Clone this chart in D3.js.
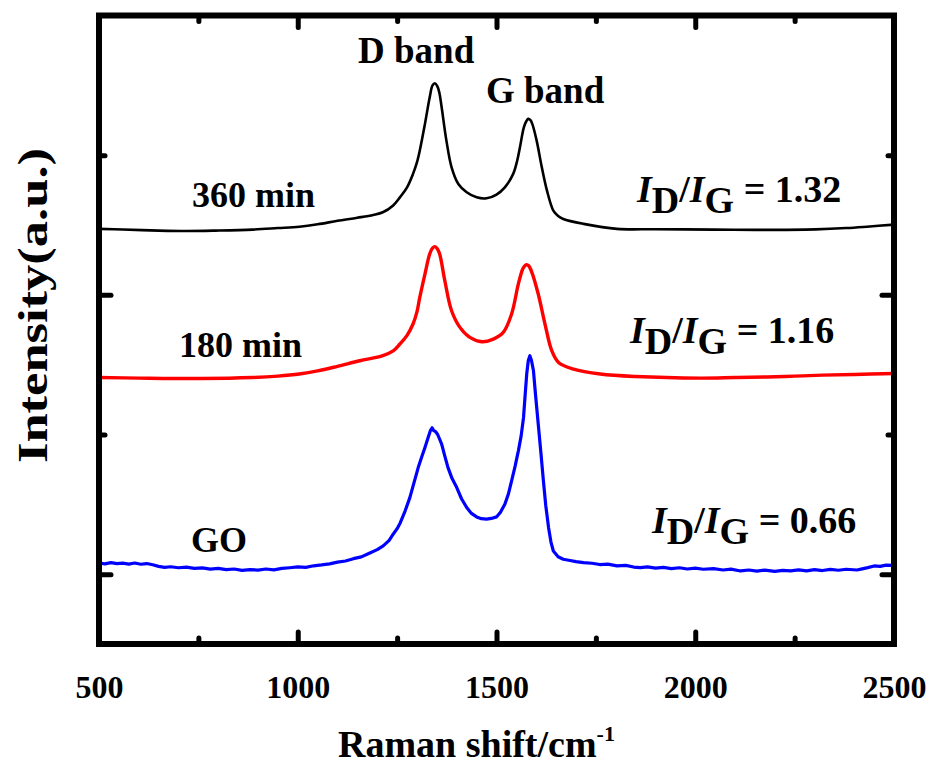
<!DOCTYPE html>
<html>
<head>
<meta charset="utf-8">
<script src="https://cdn.jsdelivr.net/npm/d3@7"></script>
<style>
  html, body { margin: 0; padding: 0; background: #fff; }
  svg text { font-family: "Liberation Serif", "Times New Roman", serif; font-weight: bold; fill: #000; }
</style>
</head>
<body>
<svg id="chart" width="930" height="773"></svg>
<script>
// Raman spectra: [wavenumber (cm-1), intensity (a.u., vertically offset)]
const spec360 = [
  [500,2972],[560,2968],[651,2960],[720,2957],[794,2960],[886,2967],[950,2978],[1004,2988],
  [1050,3005],[1100,3030],[1150,3052],[1190,3072],[1214,3091],[1240,3140],[1257,3198],[1275,3270],
  [1290,3366],[1300,3450],[1307,3533],[1320,3724],[1332,3915],[1339,3999],[1345,4015],[1351,3995],
  [1356,3950],[1362,3843],[1374,3604],[1387,3413],[1404,3294],[1425,3234],[1450,3198],[1475,3191],
  [1500,3218],[1521,3270],[1542,3366],[1552,3460],[1559,3557],[1569,3700],[1576,3748],[1580,3760],
  [1585,3752],[1590,3724],[1601,3604],[1614,3413],[1627,3246],[1643,3103],[1655,3065],[1668,3043],
  [1719,3008],[1803,2972],[1900,2970],[2046,2967],[2150,2965],[2303,2969],[2380,2978],[2432,2988],[2500,3003]
];
const spec180 = [
  [500,1908],[600,1904],[757,1901],[886,1908],[950,1918],[1004,1933],[1050,1955],[1100,1988],
  [1156,2028],[1214,2064],[1240,2098],[1257,2148],[1275,2210],[1290,2291],[1300,2380],[1307,2482],
  [1320,2649],[1332,2793],[1339,2834],[1345,2845],[1351,2830],[1357,2793],[1370,2601],[1387,2386],
  [1408,2267],[1433,2195],[1463,2164],[1492,2183],[1517,2231],[1538,2363],[1555,2578],[1566,2685],
  [1572,2710],[1576,2716],[1581,2708],[1589,2661],[1605,2506],[1622,2291],[1639,2100],[1656,2016],
  [1694,1968],[1761,1933],[1850,1915],[2013,1904],[2100,1908],[2181,1912],[2250,1918],[2320,1925],
  [2400,1930],[2500,1937]
];
const specGO = [
  [500,580],[515,574],[530,583],[545,576],[560,579],[575,572],[590,580],[605,571],[620,576],[635,567],
  [650,556],[665,549],[680,553],[700,546],[720,550],[740,541],[760,545],[780,536],[800,541],[820,532],
  [840,537],[860,527],[880,533],[900,529],[920,537],[940,531],[960,541],[980,546],[1000,552],[1020,549],
  [1040,560],[1060,566],[1080,574],[1100,586],[1120,594],[1140,611],[1160,624],[1180,650],[1200,676],
  [1215,703],[1230,742],[1240,786],[1250,826],[1258,869],[1270,952],[1282,1048],[1292,1150],[1303,1263],
  [1312,1340],[1320,1407],[1328,1478],[1334,1530],[1338,1548],[1342,1528],[1347,1520],[1352,1500],
  [1357,1466],[1362,1431],[1370,1345],[1378,1263],[1388,1186],[1400,1120],[1412,1040],[1425,977],
  [1437,935],[1450,910],[1462,897],[1475,894],[1487,899],[1500,910],[1510,944],[1521,1001],[1530,1075],
  [1538,1168],[1547,1275],[1555,1383],[1562,1490],[1568,1622],[1572,1780],[1576,1933],[1580,2030],
  [1584,2064],[1588,2030],[1593,1956],[1598,1790],[1605,1574],[1612,1360],[1618,1168],[1624,990],
  [1631,833],[1637,730],[1643,666],[1655,625],[1668,607],[1685,598],[1700,590],[1719,583],[1740,578],
  [1760,569],[1780,572],[1803,559],[1825,563],[1845,551],[1862,547],[1880,552],[1900,543],[1920,549],
  [1940,540],[1960,546],[1980,537],[2000,543],[2020,535],[2046,540],[2070,530],[2090,536],[2114,523],
  [2135,530],[2155,522],[2175,529],[2200,520],[2220,527],[2240,523],[2260,531],[2280,524],[2300,532],
  [2320,526],[2340,534],[2360,528],[2380,535],[2407,530],[2420,538],[2434,547],[2450,559],[2465,556],
  [2480,565],[2500,563]
];

// Axis ticks
const xMajor = [500, 1000, 1500, 2000, 2500];
const xMinor = [750, 1250, 1750, 2250];
const yMajor = [500, 2500];
const yMinor = [1500, 3500];

// Labels
const sampleLabels = ["360 min", "180 min", "GO"];
const ratioValues = ["1.32", "1.16", "0.66"];
const bandLabels = ["D band", "G band"];

const svg = d3.select("#chart");
const plotLeft = 99, plotRight = 894, plotTop = 15.5, plotBottom = 644;

const x = d3.scaleLinear().domain([500, 2500]).range([plotLeft, plotRight]);
const y = d3.scaleLinear().domain([0, 4500]).range([plotBottom, plotTop]);

// Spectra
const smooth = d3.line().x(d => x(d[0])).y(d => y(d[1])).curve(d3.curveCatmullRom.alpha(0.5));
const jagged = d3.line().x(d => x(d[0])).y(d => y(d[1]));

const plot = svg.append("g");
plot.append("path").datum(specGO).attr("d", jagged)
  .attr("fill", "none").attr("stroke", "#0000ff").attr("stroke-width", 3.2).attr("stroke-linejoin", "round");
plot.append("path").datum(spec180).attr("d", smooth)
  .attr("fill", "none").attr("stroke", "#ff0000").attr("stroke-width", 3.4);
plot.append("path").datum(spec360).attr("d", smooth)
  .attr("fill", "none").attr("stroke", "#000000").attr("stroke-width", 2.6);

// Axes: inward ticks on all four sides
function styleAxis(g) {
  g.select(".domain").remove();
  g.selectAll(".tick line").attr("stroke", "#000").attr("stroke-width", 5).attr("stroke-linecap", "round");
}
const majorLen = 12, minorLen = 6;

svg.append("g").attr("transform", `translate(0,${plotBottom})`)
  .call(d3.axisBottom(x).tickValues(xMajor).tickSize(-majorLen).tickPadding(31).tickFormat(d3.format("d")))
  .call(styleAxis)
  .call(g => g.selectAll(".tick text").attr("font-size", 32).attr("font-family", "Liberation Serif").attr("font-weight", "bold").attr("fill", "#000"));
svg.append("g").attr("transform", `translate(0,${plotBottom})`)
  .call(d3.axisBottom(x).tickValues(xMinor).tickSize(-minorLen).tickFormat(""))
  .call(styleAxis);
svg.append("g").attr("transform", `translate(0,${plotTop})`)
  .call(d3.axisTop(x).tickValues(xMajor).tickSize(-majorLen).tickFormat(""))
  .call(styleAxis);
svg.append("g").attr("transform", `translate(0,${plotTop})`)
  .call(d3.axisTop(x).tickValues(xMinor).tickSize(-minorLen).tickFormat(""))
  .call(styleAxis);
svg.append("g").attr("transform", `translate(${plotLeft},0)`)
  .call(d3.axisLeft(y).tickValues(yMajor).tickSize(-majorLen).tickFormat(""))
  .call(styleAxis);
svg.append("g").attr("transform", `translate(${plotLeft},0)`)
  .call(d3.axisLeft(y).tickValues(yMinor).tickSize(-minorLen).tickFormat(""))
  .call(styleAxis);
svg.append("g").attr("transform", `translate(${plotRight},0)`)
  .call(d3.axisRight(y).tickValues(yMajor).tickSize(-majorLen).tickFormat(""))
  .call(styleAxis);
svg.append("g").attr("transform", `translate(${plotRight},0)`)
  .call(d3.axisRight(y).tickValues(yMinor).tickSize(-minorLen).tickFormat(""))
  .call(styleAxis);

// Frame
svg.append("rect")
  .attr("x", plotLeft).attr("y", plotTop).attr("width", plotRight - plotLeft).attr("height", plotBottom - plotTop)
  .attr("fill", "none").attr("stroke", "#000").attr("stroke-width", 6);

// Axis titles
const xt = svg.append("text").attr("x", 338).attr("y", 757).attr("font-size", 38);
xt.append("tspan").text("Raman shift/cm");
xt.append("tspan").attr("font-size", 22).attr("dy", -16).text("-1");

svg.append("text")
  .attr("transform", "translate(47,305.5) rotate(-90)")
  .attr("text-anchor", "middle").attr("font-size", 42)
  .attr("textLength", 315).attr("lengthAdjust", "spacingAndGlyphs")
  .text("Intensity(a.u.)");

// Band labels
svg.append("text").attr("x", 358).attr("y", 63).attr("font-size", 37).text(bandLabels[0]);
svg.append("text").attr("x", 486).attr("y", 103).attr("font-size", 37).text(bandLabels[1]);

// Sample labels
const samplePos = [[192, 207], [179, 357], [191, 552]];
sampleLabels.forEach((t, i) => {
  svg.append("text").attr("x", samplePos[i][0]).attr("y", samplePos[i][1]).attr("font-size", 36).text(t);
});

// I_D / I_G ratio labels
const ratioPos = [[637, 202], [630, 343], [652, 533]];
ratioValues.forEach((v, i) => {
  const t = svg.append("text").attr("x", ratioPos[i][0]).attr("y", ratioPos[i][1]).attr("font-size", 38);
  t.append("tspan").attr("font-style", "italic").text("I");
  t.append("tspan").attr("dy", 11).text("D");
  t.append("tspan").attr("dy", -11).text("/");
  t.append("tspan").attr("font-style", "italic").text("I");
  t.append("tspan").attr("dy", 11).text("G");
  t.append("tspan").attr("dy", -11).text("\u00a0= " + v);
});
</script>
</body>
</html>
